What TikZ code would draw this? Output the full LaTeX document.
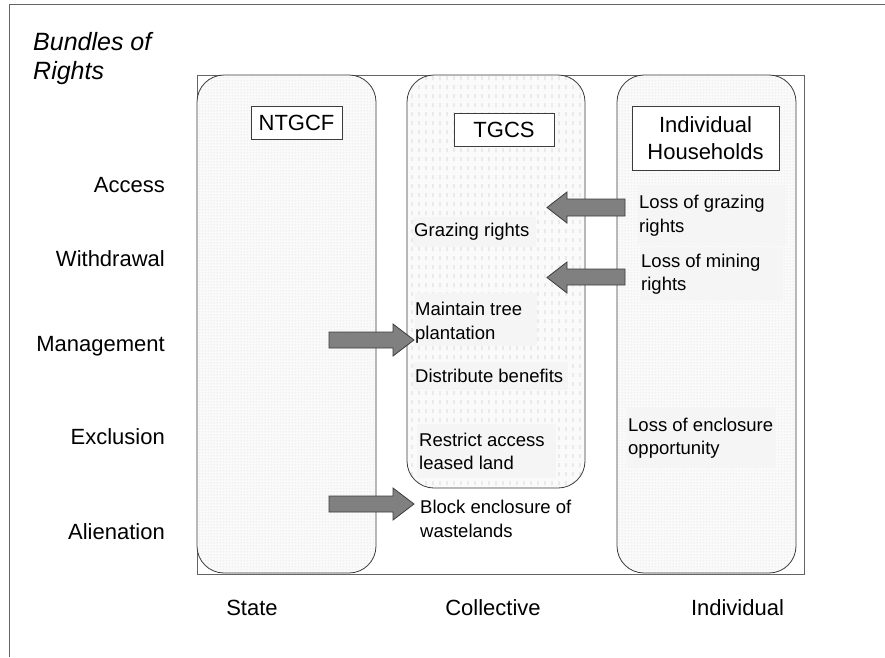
\documentclass[tikz,border=0pt]{standalone}
\usepackage{fontspec}
\setmainfont{Liberation Sans}
\usetikzlibrary{patterns.meta}
\definecolor{boxbg}{RGB}{245,245,245}
\definecolor{arrowfill}{RGB}{128,128,128}
\definecolor{edgegray}{RGB}{60,60,60}
\definecolor{framegray}{RGB}{100,100,100}
\definecolor{dotgray}{RGB}{205,205,205}
\definecolor{colbg}{RGB}{250,250,250}
\tikzdeclarepattern{name=finedots, type=uncolored,
  bounding box={(0pt,0pt) and (3pt,3pt)}, tile size={(3pt,3pt)},
  code={\fill (1.5pt,1.5pt) circle (0.6pt);}}
\tikzdeclarepattern{name=vdashes, type=uncolored,
  bounding box={(0pt,0pt) and (6.6pt,9pt)}, tile size={(6.6pt,9pt)},
  code={\fill (2.9pt,2pt) rectangle (3.7pt,6.5pt);}}
\begin{document}
\begin{tikzpicture}[x=1pt,y=-1pt,
  colbox/.style={draw=edgegray, line width=0.8pt, rounded corners=27pt,
    preaction={fill=colbg}},
  hdr/.style={draw=edgegray, line width=0.8pt, fill=white, inner sep=0pt,
    font=\fontsize{22}{27}\selectfont, align=center},
  lbl/.style={font=\fontsize{22}{26}\selectfont, inner sep=0pt},
  ttl/.style={font=\fontsize{25}{29}\selectfont\itshape, inner sep=0pt},
  bgbox/.style={fill=boxbg, inner sep=0pt, anchor=north west},
  body/.style={font=\fontsize{18.5}{23.5}\selectfont, align=left, inner sep=0pt, anchor=west},
  blockarrow/.style={fill=arrowfill, draw=edgegray, line width=0.8pt, line join=miter}]
\useasboundingbox (0,0) rectangle (885,657);
\fill[white] (0,0) rectangle (885,657);
% outer frame (left and top)
\draw[framegray, line width=1pt] (9,657) -- (9,4) -- (885,4);
% title
\node[ttl, anchor=base west] (ttl1) at (33,50) {Bundles of};
\node[ttl, anchor=base west] (ttl2) at (33,79) {Rights};
% inner frame
\draw[framegray, line width=0.8pt] (197,75) rectangle (804,574);
% columns
\draw[colbox, pattern={finedots}, pattern color=dotgray] (197,75) rectangle (376,573);
\draw[colbox, pattern={vdashes}, pattern color=dotgray] (407,75) rectangle (585,488);
\draw[colbox, pattern={finedots}, pattern color=dotgray] (617,75) rectangle (796,573);
% headers
\node[hdr, minimum width=91pt, minimum height=33pt] (ntgcf) at (296.5,122.5) {NTGCF};
\node[hdr, minimum width=100pt, minimum height=33pt] (tgcs) at (504,129.5) {TGCS};
\node[hdr, minimum width=147pt, minimum height=64pt] (ihh) at (705.5,138) {Individual\\Households};
% row labels
\node[lbl, anchor=base east] (access) at (165,192) {Access};
\node[lbl, anchor=base east] (withdrawal) at (165,266.5) {Withdrawal};
\node[lbl, anchor=base east] (management) at (165,351) {Management};
\node[lbl, anchor=base east] (exclusion) at (165,444) {Exclusion};
\node[lbl, anchor=base east] (alienation) at (165,539) {Alienation};
% column labels
\node[lbl, anchor=base] (state) at (252,615) {State};
\node[lbl, anchor=base] (collective) at (493,615) {Collective};
\node[lbl, anchor=base] (individual) at (737.5,615) {Individual};
% TGCS texts
\node[bgbox, minimum width=123pt, minimum height=30pt] (grazbg) at (413,217) {};
\node[body] (graz) at ([xshift=1pt]grazbg.west) {Grazing rights};
\node[bgbox, minimum width=122pt, minimum height=53pt] (maintbg) at (415,293) {};
\node[body] (maint) at ([xshift=0pt,yshift=-3pt]maintbg.west) {Maintain tree\\plantation};
\node[bgbox, minimum width=155pt, minimum height=28pt] (distbg) at (413,362) {};
\node[body] (dist) at ([xshift=2pt]distbg.west) {Distribute benefits};
\node[bgbox, minimum width=139pt, minimum height=54pt] (restbg) at (417,424) {};
\node[body] (rest) at ([xshift=2pt]restbg.west) {Restrict access\\leased land};
\node[body] (block) at (420,519) {Block enclosure of\\wastelands};
% Individual texts
\node[bgbox, minimum width=148pt, minimum height=61pt] (lgrazbg) at (638,185) {};
\node[body] (lgraz) at ([xshift=1pt]lgrazbg.west) {Loss of grazing\\rights};
\node[bgbox, minimum width=143pt, minimum height=54pt] (lminebg) at (640,247) {};
\node[body] (lmine) at ([xshift=1pt]lminebg.west) {Loss of mining\\rights};
\node[bgbox, minimum width=149pt, minimum height=60pt] (lenclbg) at (627,408) {};
\node[body] (lencl) at ([xshift=1pt]lenclbg.west) {Loss of enclosure\\opportunity};
% block arrows
\draw[blockarrow] (625,199) -- (567,199) -- (567,192) -- (547,207.5) -- (567,223) -- (567,216) -- (625,216) -- cycle;
\draw[blockarrow] (625,269) -- (567,269) -- (567,262) -- (547,277.5) -- (567,293) -- (567,285) -- (625,285) -- cycle;
\draw[blockarrow] (329,332) -- (393,332) -- (393,324) -- (414,340) -- (393,356) -- (393,348) -- (329,348) -- cycle;
\draw[blockarrow] (329,496) -- (393,496) -- (393,488) -- (414,504) -- (393,520) -- (393,512) -- (329,512) -- cycle;
\end{tikzpicture}
\end{document}
